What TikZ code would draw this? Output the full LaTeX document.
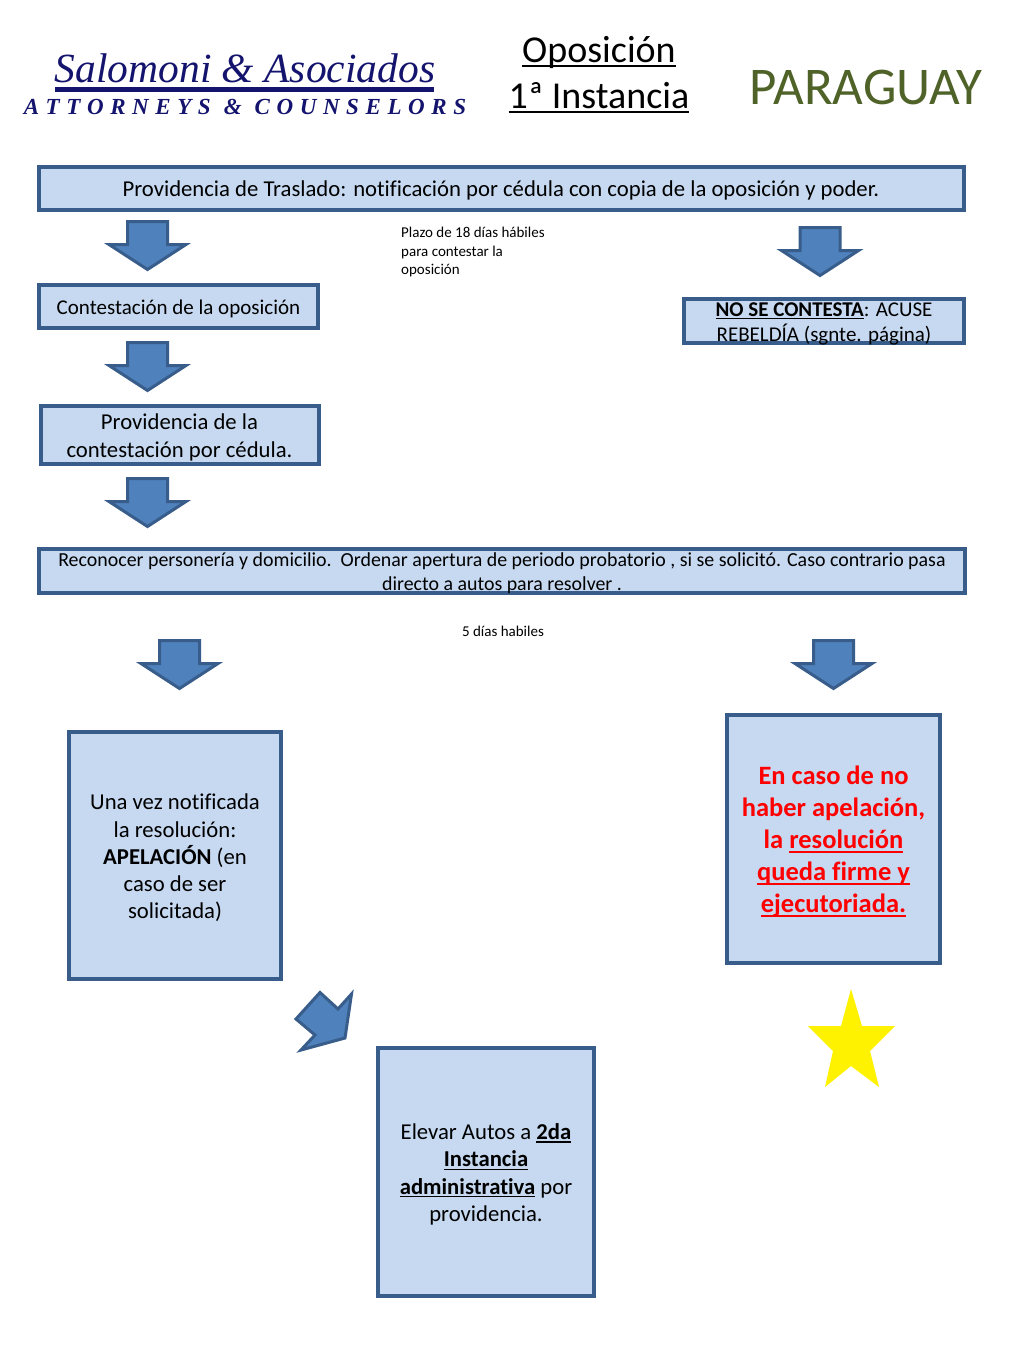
\documentclass[tikz,border=0pt]{standalone}
\usepackage{fontspec}
\setmainfont[Ligatures=NoCommon]{Carlito}
\newfontfamily\logofont{Liberation Serif}
\definecolor{boxfill}{HTML}{C6D9F1}
\definecolor{boxline}{HTML}{385D8A}
\definecolor{arrowfill}{HTML}{4F81BD}
\definecolor{titlegreen}{HTML}{4F6228}
\definecolor{logoblue}{HTML}{14146E}
\newsavebox\myulbox
\newcommand{\myul}[1]{\sbox\myulbox{#1}\rlap{\rule[-0.14em]{\wd\myulbox}{0.065em}}\usebox\myulbox}
\tikzset{
  flowbox/.style={draw=boxline,fill=boxfill,line width=3.2pt,align=center,inner sep=0pt,outer sep=0pt,anchor=north west,text=black},
  note/.style={align=left,anchor=north west,inner sep=0pt,font=\fontsize{15}{18.5}\selectfont},
  blockarrow/.style={draw=boxline,fill=arrowfill,line width=3pt,line join=miter},
  pics/downarrow/.style={code={
    \path[blockarrow] (-20,0) -- (20,0) -- (20,23) -- (38.5,23) -- (0,48) -- (-38.5,23) -- (-20,23) -- cycle;
  }}
}
\begin{document}
\begin{tikzpicture}[x=1pt,y=-1pt]
\useasboundingbox (0,0) rectangle (1024,1365);
\fill[white] (0,0) rectangle (1024,1365);
% logo
\node[anchor=base,inner sep=0pt,text=logoblue,font=\logofont\itshape\fontsize{41.5}{42}\selectfont] (logoname) at (245,82) {Salomoni \& Asociados};
\fill[logoblue] (55,87) rectangle (434,91.5);
\node[anchor=base,inner sep=0pt,text=logoblue,font=\logofont\bfseries\itshape\fontsize{23}{23}\selectfont] (logosub) at (245,114) {A\hspace{6.6pt}T\hspace{6.6pt}T\hspace{6.6pt}O\hspace{6.6pt}R\hspace{6.6pt}N\hspace{6.6pt}E\hspace{6.6pt}Y\hspace{6.6pt}S\hspace{13pt}\&\hspace{13pt}C\hspace{6.6pt}O\hspace{6.6pt}U\hspace{6.6pt}N\hspace{6.6pt}S\hspace{6.6pt}E\hspace{6.6pt}L\hspace{6.6pt}O\hspace{6.6pt}R\hspace{6.6pt}S};
% titles
\node[anchor=base,inner sep=0pt,font=\fontsize{38}{38}\selectfont] (t1) at (599,62) {\myul{Oposición}};
\node[anchor=base,inner sep=0pt,font=\fontsize{38}{38}\selectfont] (t2) at (599,108) {\myul{1ª Instancia}};
\node[anchor=base,inner sep=0pt,text=titlegreen,font=\fontsize{53}{53}\selectfont] (t3) at (866,104) {PARAGUAY};
% boxes
\node[flowbox,minimum width=925pt,minimum height=43pt] (b1) at (39,167) {};
\node[anchor=base,inner sep=0pt,font=\fontsize{22.7}{26}\selectfont] (b1t) at (501,196) {Providencia de Traslado: notificación por cédula con copia de la oposición y poder.};
\node[flowbox,minimum width=279pt,minimum height=43pt] (b2) at (39,285) {};
\node[anchor=base,inner sep=0pt,font=\fontsize{21}{26}\selectfont] (b2t) at (178.5,314) {Contestación de la oposición};
\node[flowbox,minimum width=280pt,minimum height=44pt] (b3) at (684,299) {};
\node[anchor=base,inner sep=0pt,font=\fontsize{21}{25}\selectfont] (b3a) at (824,316) {\myul{\textbf{NO SE CONTESTA}}: ACUSE};
\node[anchor=base,inner sep=0pt,font=\fontsize{21}{25}\selectfont] (b3b) at (824,341) {REBELDÍA (sgnte. página)};
\node[flowbox,minimum width=278pt,minimum height=58pt] (b4) at (41,406) {};
\node[anchor=north,align=center,inner sep=0pt,font=\fontsize{22.7}{27.5}\selectfont] (b4t) at (179.5,414) {Providencia de la\\contestación por cédula.};
\node[flowbox,minimum width=926pt,minimum height=44pt] (b5) at (39,549) {};
\node[anchor=base,inner sep=0pt,font=\fontsize{19.9}{24}\selectfont] (b5a) at (502,566) {Reconocer personería y domicilio.\ \ Ordenar apertura de periodo probatorio , si se solicitó. Caso contrario pasa};
\node[anchor=base,inner sep=0pt,font=\fontsize{19.9}{24}\selectfont] (b5b) at (502,590) {directo a autos para resolver .};
\node[flowbox,minimum width=212pt,minimum height=247pt] (b6) at (69,732) {};
\node[anchor=north,align=center,inner sep=0pt,font=\fontsize{22.7}{27.2}\selectfont] (b6t) at (175,794) {Una vez notificada\\la resolución:\\\textbf{APELACIÓN} (en\\caso de ser\\solicitada)};
\node[flowbox,minimum width=213pt,minimum height=248pt] (b7) at (727,715) {};
\node[anchor=north,align=center,inner sep=0pt,text=red,font=\bfseries\fontsize{26.5}{32}\selectfont] (b7t) at (833.5,766) {En caso de no\\haber apelación,\\la \myul{resolución}\\\myul{queda firme y}\\\myul{ejecutoriada.}};
\node[flowbox,minimum width=216pt,minimum height=248pt] (b8) at (378,1048) {};
\node[anchor=north,align=center,inner sep=0pt,font=\fontsize{22.7}{27.2}\selectfont] (b8t) at (486,1123.5) {Elevar Autos a \myul{\textbf{2da}}\\\myul{\textbf{Instancia}}\\\myul{\textbf{administrativa}} por\\providencia.};
% notes
\node[note] (n1) at (401,227) {Plazo de 18 días hábiles\\para contestar la\\oposición};
\node[anchor=base,inner sep=0pt,font=\fontsize{15}{18}\selectfont] (n2) at (503,636) {5 días habiles};
% block arrows
\pic at (147.5,221.5) {downarrow};
\pic at (820,227.5) {downarrow};
\pic at (147.5,342.5) {downarrow};
\pic at (147.5,478.5) {downarrow};
\pic at (179.5,640.5) {downarrow};
\pic at (833.5,640.5) {downarrow};
\path[blockarrow] (320,992.5) -- (338,1009) -- (351.5,994) -- (345,1038) -- (301,1050) -- (315,1035) -- (296,1019) -- cycle;
% star
\fill[yellow] (851,989) -- (862,1026) -- (895,1026) -- (870,1051) -- (879,1087) -- (851,1066) -- (825,1087) -- (833,1051) -- (808,1026) -- (841,1026) -- cycle;
\end{tikzpicture}
\end{document}
